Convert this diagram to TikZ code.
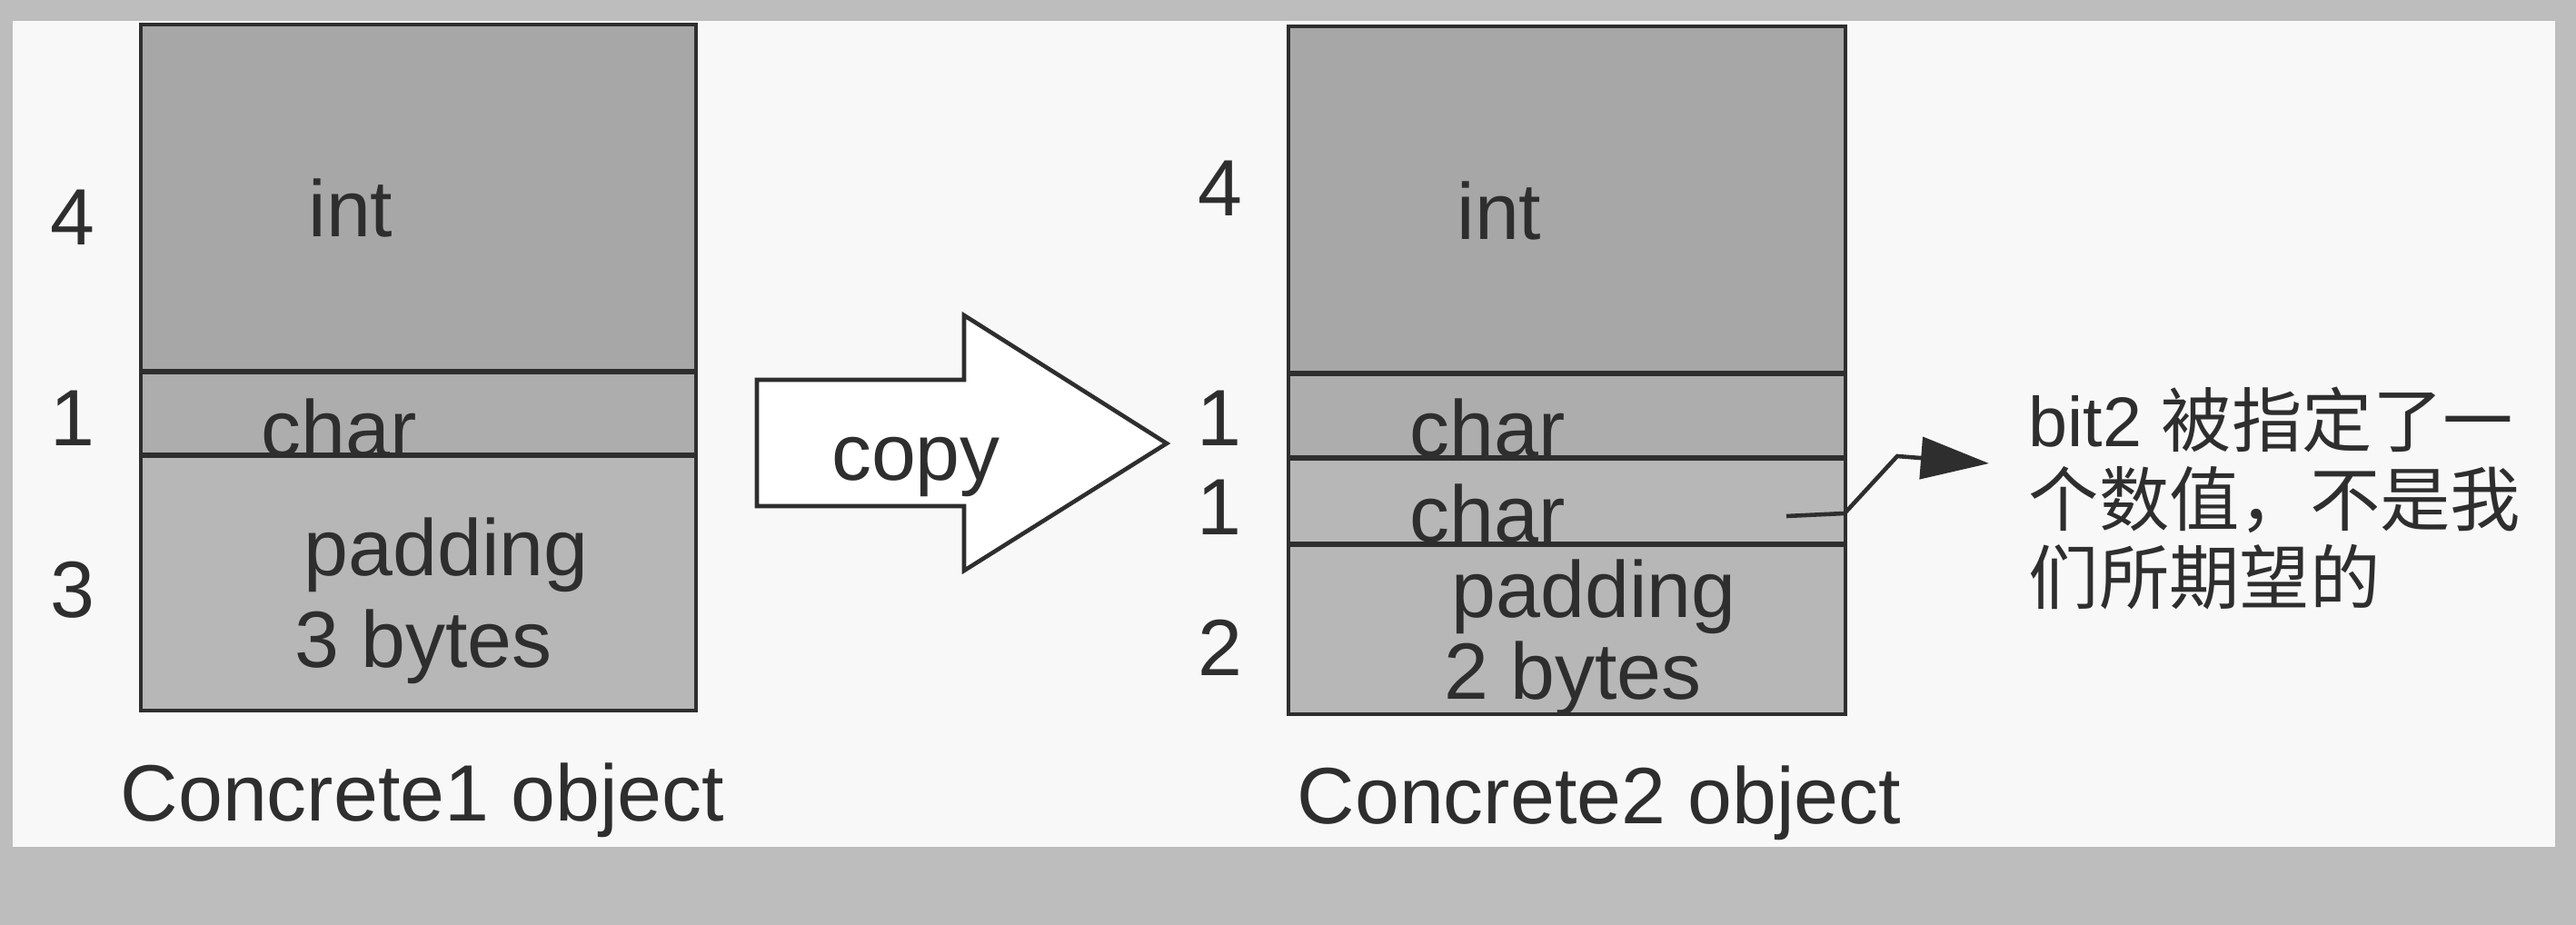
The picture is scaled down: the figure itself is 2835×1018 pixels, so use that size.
\documentclass[tikz,border=0pt]{standalone}
\usepackage{fontspec}
\setmainfont{Liberation Sans}
\newfontfamily\cjk{Noto Sans CJK SC}
\usetikzlibrary{arrows.meta,fit}
\definecolor{framegray}{HTML}{BDBDBD}
\definecolor{paper}{HTML}{F8F8F8}
\definecolor{intgray}{HTML}{A7A7A7}
\definecolor{chargray}{HTML}{ADADAD}
\definecolor{padgray}{HTML}{B7B7B7}
\definecolor{ink}{HTML}{2E2E2E}
\tikzset{
  seg/.style={inner sep=0pt, outer sep=0pt, draw=none},
  outline/.style={draw=ink, line width=1.3pt},
  sepline/.style={draw=ink, line width=1.8pt},
  lbl/.style={text=ink, font=\fontsize{25}{30}\selectfont, inner sep=0pt, anchor=base},
  note/.style={text=ink, font=\fontsize{22}{24.7}\selectfont, inner sep=0pt, align=left, anchor=north west},
  blockarrow/.style={draw=ink, line width=1.3pt, fill=white},
  callout/.style={draw=ink, line width=1.3pt, -{Triangle[length=7.5mm,width=4.6mm]}}
}
\begin{document}
\begin{tikzpicture}[x=0.01cm,y=-0.01cm]
\useasboundingbox (0,0) rectangle (2835,1018);
% frame
\fill[framegray] (0,0) rectangle (2835,1018);
\fill[paper] (14,23) rectangle (2812,932);

% left object
\node[seg, fill=intgray, fit={(155,27) (766,409)}] (int1) {};
\node[seg, fill=chargray, fit={(155,409) (766,501)}] (char1) {};
\node[seg, fill=padgray, fit={(155,501) (766,782)}] (pad1) {};
\draw[sepline] (int1.south west) -- (int1.south east);
\draw[sepline] (char1.south west) -- (char1.south east);
\draw[outline] (int1.north west) rectangle (pad1.south east);

\node[lbl] (t1int) at (386,260) {int};
\node[lbl] (t1char) at (373,502) {char};
\node[lbl] (t1pad) at (491,633) {padding};
\node[lbl] (t1bytes) at (466,734) {3 bytes};
\node[lbl] (n1a) at (80,269) {4};
\node[lbl] (n1b) at (80,490) {1};
\node[lbl] (n1c) at (80,679) {3};
\node[lbl] (cap1) at (465,903) {Concrete1 object};

% copy arrow
\draw[blockarrow] (833,418) -- (1061,418) -- (1061,347) -- (1284,488)
  -- (1061,628) -- (1061,557) -- (833,557) -- cycle;
\node[lbl] (copy) at (1008,528) {copy};

% right object
\node[seg, fill=intgray, fit={(1418,29) (2031,411)}] (int2) {};
\node[seg, fill=chargray, fit={(1418,411) (2031,504)}] (char2a) {};
\node[seg, fill=padgray, fit={(1418,504) (2031,599)}] (char2b) {};
\node[seg, fill=padgray, fit={(1418,599) (2031,786)}] (pad2) {};
\draw[sepline] (int2.south west) -- (int2.south east);
\draw[sepline] (char2a.south west) -- (char2a.south east);
\draw[sepline] (char2b.south west) -- (char2b.south east);
\draw[outline] (int2.north west) rectangle (pad2.south east);

\node[lbl] (t2int) at (1650,263) {int};
\node[lbl] (t2chara) at (1637,502) {char};
\node[lbl] (t2charb) at (1637,596) {char};
\node[lbl] (t2pad) at (1754,679) {padding};
\node[lbl] (t2bytes) at (1731,769) {2 bytes};
\node[lbl] (n2a) at (1343,237) {4};
\node[lbl] (n2b) at (1342,490) {1};
\node[lbl] (n2c) at (1342,588) {1};
\node[lbl] (n2d) at (1343,743) {2};
\node[lbl] (cap2) at (1760,906) {Concrete2 object};

% callout
\node[note] (msg) at (2232,425) {bit2 {\cjk 被指定了一}\\{\cjk 个数值，不是我}\\{\cjk 们所期望的}};
\coordinate (src) at (1966,568);
\coordinate (tip) at (2189,510);
\draw[callout] (src) -- (2030,565) -- (2088,502) -- (tip);
\end{tikzpicture}
\end{document}
